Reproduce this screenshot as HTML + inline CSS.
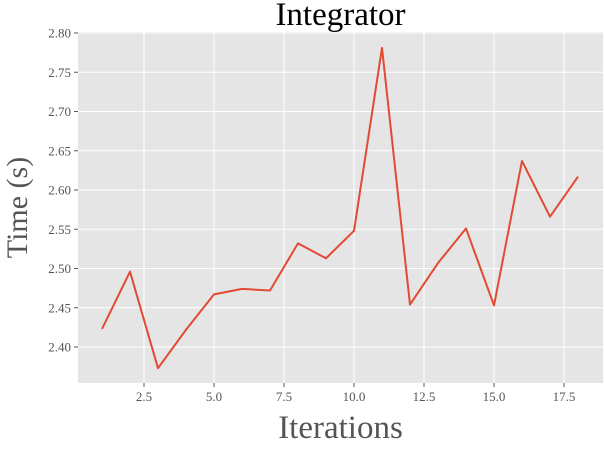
<!DOCTYPE html>
<html><head><meta charset="utf-8"><style>
html,body{margin:0;padding:0;background:#fff;}
svg text{font-family:"Liberation Serif",serif;}
</style></head><body>
<svg id="chart" width="604" height="444" xmlns="http://www.w3.org/2000/svg"></svg>
<script>
const iterations=[1,2,3,4,5,6,7,8,9,10,11,12,13,14,15,16,17,18];
const times=[2.423,2.496,2.373,2.422,2.467,2.474,2.472,2.532,2.513,2.548,2.781,2.454,2.507,2.551,2.453,2.637,2.566,2.617];
const xTicks=[2.5,5.0,7.5,10.0,12.5,15.0,17.5];
const yTicks=[2.40,2.45,2.50,2.55,2.60,2.65,2.70,2.75,2.80];
const L=78,R=603,T=32,B=383;
const xs=v=>102+(v-1)*28;
const ys=v=>33+(2.80-v)*785;
const svg=document.getElementById('chart');
const NS='http://www.w3.org/2000/svg';
function mk(tag,attrs,parent){const e=document.createElementNS(NS,tag);for(const k in attrs)e.setAttribute(k,attrs[k]);(parent||svg).appendChild(e);return e;}
const bg=mk('rect',{x:L,y:T,width:R-L,height:B-T,fill:'#e5e5e5'});


xTicks.forEach(t=>{
  const g=mk('line',{x1:xs(t),x2:xs(t),y1:T,y2:B,stroke:'#fff','stroke-width':1});
  
  
  const tk=mk('line',{x1:xs(t),x2:xs(t),y1:B,y2:B+4,stroke:'#555'});
  
  
  const tx=mk('text',{x:xs(t),y:B+18,'text-anchor':'middle','font-size':13,fill:'#555'});
  tx.textContent=t.toFixed(1);
  
  
});
yTicks.forEach(t=>{
  const g=mk('line',{x1:L,x2:R,y1:ys(t),y2:ys(t),stroke:'#fff','stroke-width':1});
  
  
  const tk=mk('line',{x1:L-4,x2:L,y1:ys(t),y2:ys(t),stroke:'#555'});
  
  
  const tx=mk('text',{x:L-7,y:ys(t)+4.5,'text-anchor':'end','font-size':13,fill:'#555'});
  tx.textContent=t.toFixed(2);
  
  
});
const line=mk('polyline',{points:iterations.map((x,i)=>xs(x)+','+ys(times[i])).join(' '),fill:'none',stroke:'#e24a33','stroke-width':2,'stroke-linejoin':'round'});


const title=mk('text',{x:(L+R)/2,y:25,'text-anchor':'middle','font-size':33,fill:'#000'});
title.textContent='Integrator';


const xl=mk('text',{x:(L+R)/2,y:438,'text-anchor':'middle','font-size':33,fill:'#555'});
xl.textContent='Iterations';


const yl=mk('text',{x:0,y:0,'text-anchor':'middle','font-size':30,fill:'#555',transform:'translate(27,'+((T+B)/2)+') rotate(-90)'});
yl.textContent='Time (s)';


</script>
</body></html>
